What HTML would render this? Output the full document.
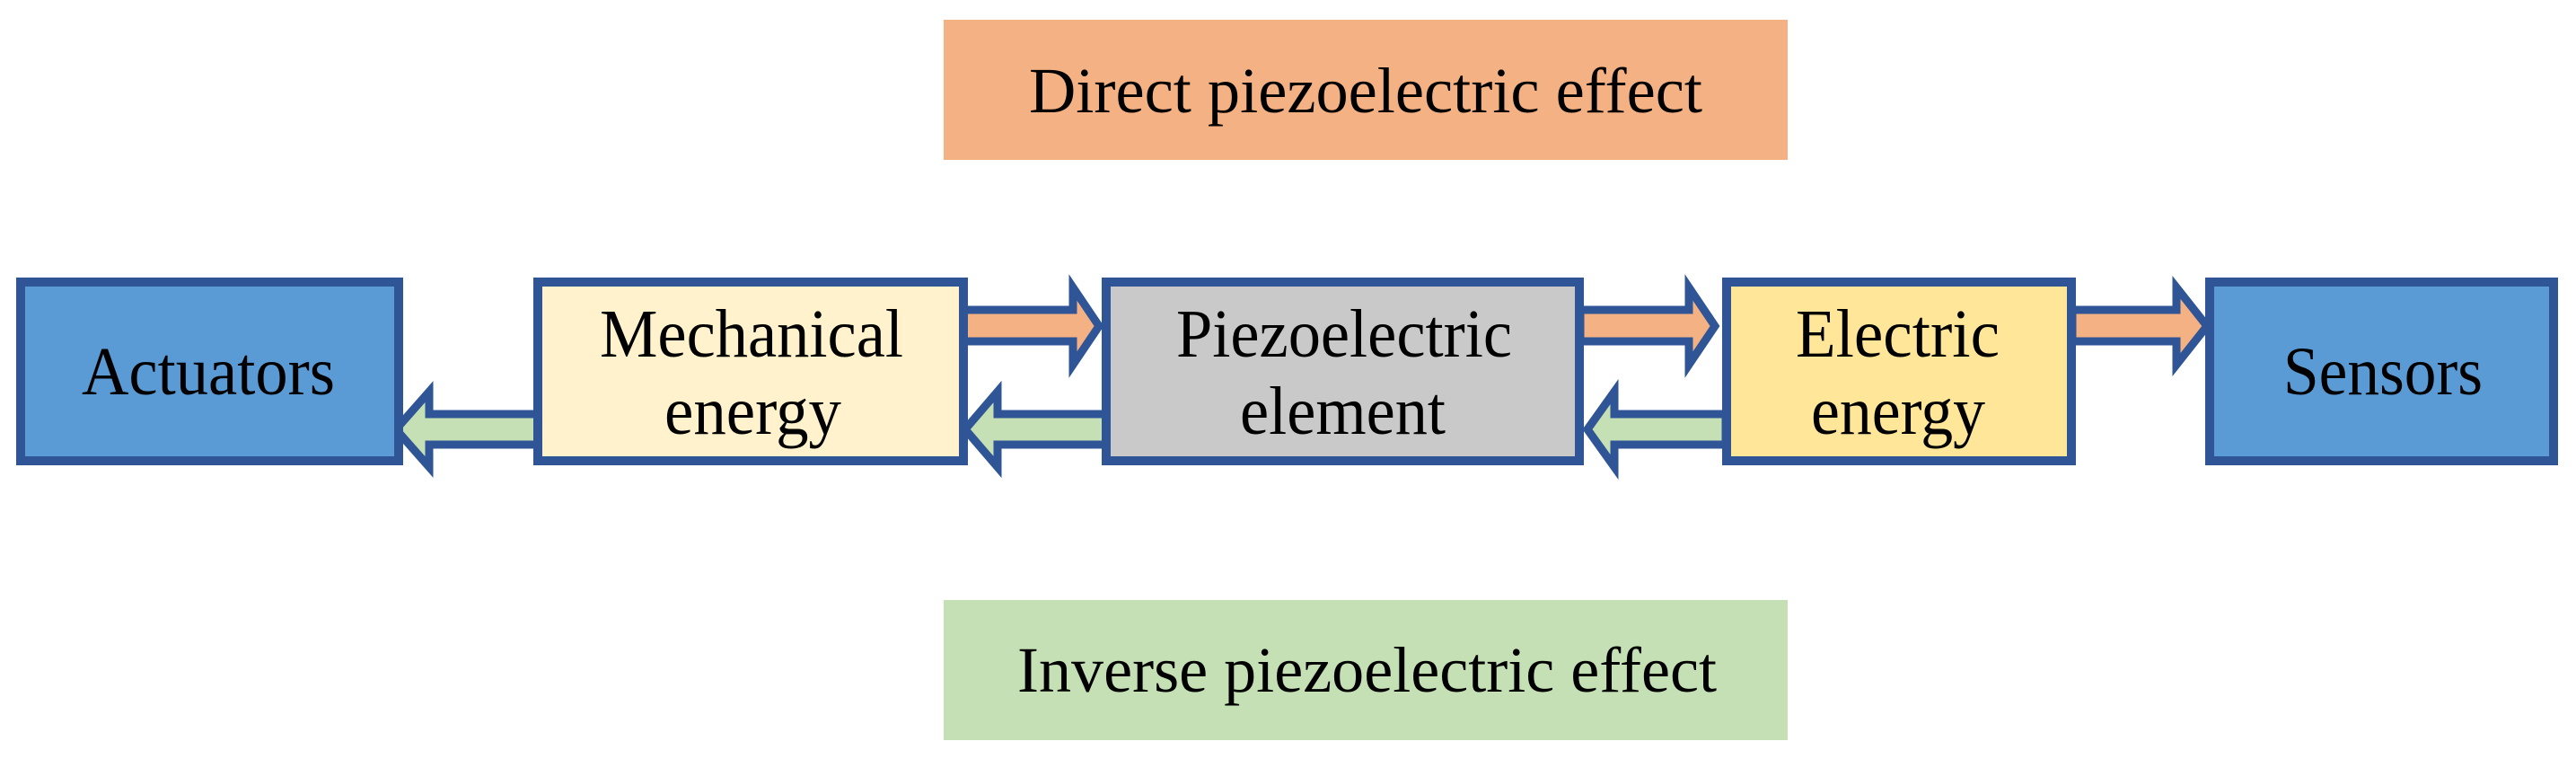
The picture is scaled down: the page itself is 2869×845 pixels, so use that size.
<!DOCTYPE html>
<html><head><meta charset="utf-8"><style>
html,body{margin:0;padding:0;background:#fff;}
svg{display:block}
text{font-family:"Liberation Serif",serif;fill:#000;}
</style></head><body>
<svg width="2869" height="845" viewBox="0 0 2869 845" xmlns="http://www.w3.org/2000/svg">
<rect x="1051" y="22" width="940" height="156" fill="#F4B183"/>
<text x="1146" y="125" font-size="72" textLength="750" lengthAdjust="spacingAndGlyphs">Direct piezoelectric effect</text>
<rect x="1051" y="668" width="940" height="156" fill="#C5E0B4"/>
<text x="1133" y="770" font-size="72" textLength="779" lengthAdjust="spacingAndGlyphs">Inverse piezoelectric effect</text>

<g stroke="#2F5597" stroke-width="9" stroke-linejoin="miter">
<!-- orange arrows -->
<polygon fill="#F4B183" points="1070,345 1195,345 1195,320 1224,363 1195,406 1195,380 1070,380"/>
<polygon fill="#F4B183" points="1760,345 1881,345 1881,320 1910,363 1881,406 1881,380 1760,380"/>
<polygon fill="#F4B183" points="2308,345 2424,345 2424,320 2458,363 2424,406 2424,380 2308,380"/>
<!-- green arrows -->
<polygon fill="#C5E0B4" points="600,461 478,461 478,436 441,478 478,520 478,495 600,495"/>
<polygon fill="#C5E0B4" points="1232,461 1111,461 1111,436 1075,478 1111,520 1111,495 1232,495"/>
<polygon fill="#C5E0B4" points="1922,461 1798,461 1798,436 1768,478 1798,520 1798,495 1922,495"/>
</g>

<g stroke="#2F5597" stroke-width="10">
<rect x="23" y="314" width="421" height="199" fill="#5B9BD5"/>
<rect x="599" y="314" width="474" height="199" fill="#FFF2CC"/>
<rect x="1232" y="314" width="527" height="199" fill="#C9C9C9"/>
<rect x="1923" y="314" width="384" height="199" fill="#FFE699"/>
<rect x="2461" y="314" width="383" height="199" fill="#5B9BD5"/>
</g>

<text x="91" y="439" font-size="76" textLength="282" lengthAdjust="spacingAndGlyphs">Actuators</text>
<text x="668" y="397" font-size="76" textLength="338" lengthAdjust="spacingAndGlyphs">Mechanical</text>
<text x="740" y="483" font-size="76" textLength="197" lengthAdjust="spacingAndGlyphs">energy</text>
<text x="1310" y="397" font-size="76" textLength="374" lengthAdjust="spacingAndGlyphs">Piezoelectric</text>
<text x="1381" y="483" font-size="76" textLength="229" lengthAdjust="spacingAndGlyphs">element</text>
<text x="2000" y="397" font-size="76" textLength="227" lengthAdjust="spacingAndGlyphs">Electric</text>
<text x="2017" y="483" font-size="76" textLength="194" lengthAdjust="spacingAndGlyphs">energy</text>
<text x="2543" y="439" font-size="76" textLength="222" lengthAdjust="spacingAndGlyphs">Sensors</text>
</svg>
</body></html>
